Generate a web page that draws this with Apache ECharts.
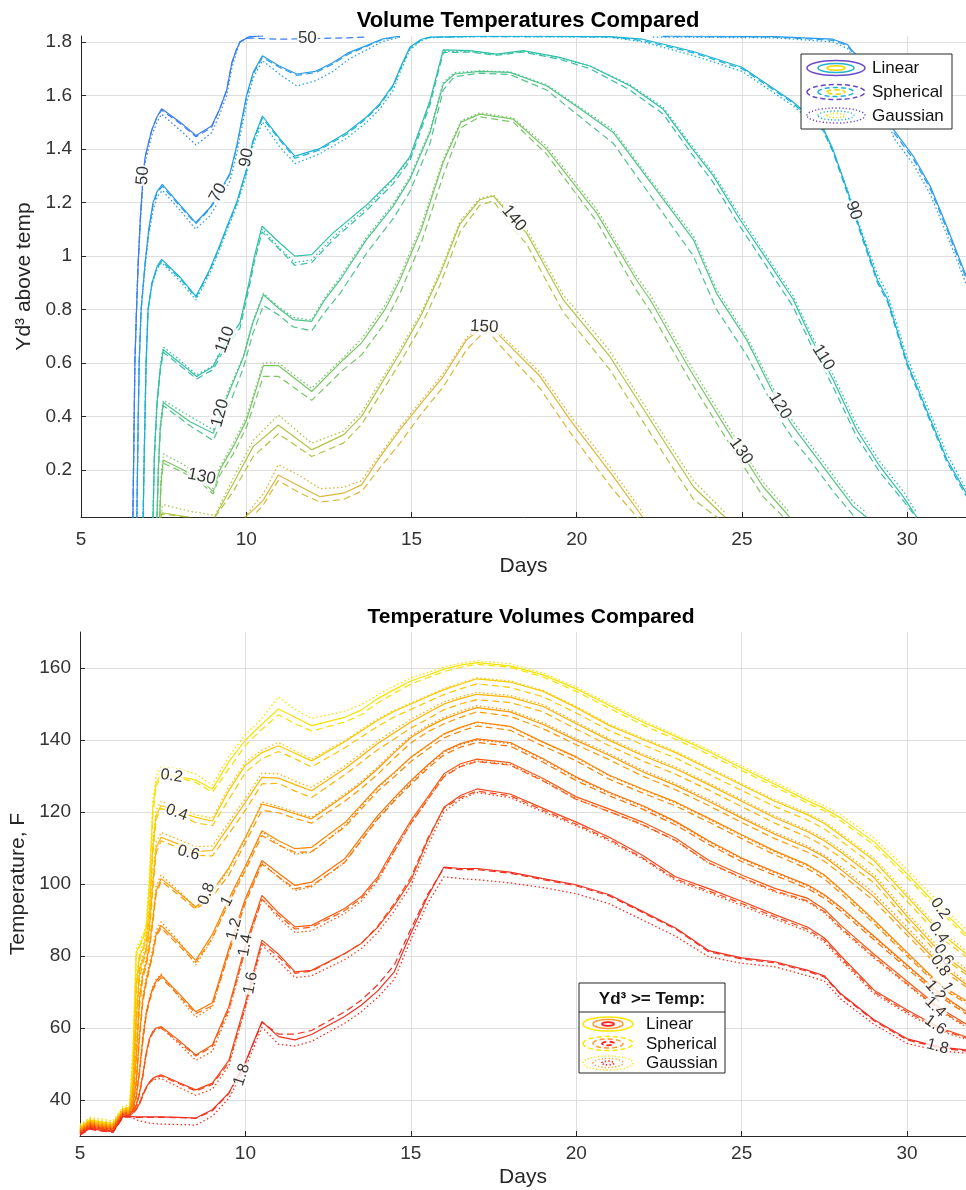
<!DOCTYPE html>
<html><head><meta charset="utf-8">
<script src="https://cdn.jsdelivr.net/npm/echarts@6/dist/echarts.min.js"></script>
<style>html,body{margin:0;padding:0;background:#fff}#c{width:966px;height:1190px}</style>
</head><body><div id="c"></div>
<script>
// ---------- TOP CHART: contour levels (temperature) ----------
const T_LEVELS = [50, 70, 90, 110, 120, 130, 140, 150];

const T50_X   = [6.57, 6.6, 6.63, 6.68, 6.73, 6.8, 6.87, 6.94, 7.14, 7.3, 7.44, 8.0, 8.48, 8.95, 9.2, 9.41, 9.56, 9.7, 9.81, 10.1, 10.5, 11, 12, 13, 13.6];
const T50_LIN = [0.02, 0.3, 0.6, 0.8, 0.975, 1.15, 1.28, 1.37, 1.47, 1.52, 1.55, 1.5, 1.45, 1.486, 1.55, 1.62, 1.72, 1.77, 1.8, 1.82, 1.822, null, null, null, null];
const T50_SPH = [0.02, 0.3, 0.6, 0.8, 0.97, 1.15, 1.28, 1.37, 1.47, 1.52, 1.545, 1.495, 1.445, 1.48, 1.55, 1.62, 1.72, 1.77, 1.8, 1.815, 1.812, 1.81, 1.812, 1.815, 1.818];
const T50_GAU = [0.02, 0.3, 0.6, 0.8, 0.97, 1.13, 1.26, 1.35, 1.45, 1.5, 1.53, 1.47, 1.415, 1.46, 1.53, 1.6, 1.7, 1.76, 1.8, 1.82, 1.822, null, null, null, null];

const T70_X   = [6.69, 6.72, 6.76, 6.82, 6.94, 7.05, 7.18, 7.3, 7.46, 8.0, 8.47, 8.9, 9.2, 9.51, 9.71, 10.01, 10.21, 10.49, 11.0, 11.53, 12.1, 12.63, 13.1, 13.64, 14.1, 14.65, 18, 22.3, 22.6, 24, 26, 27.75, 28.2, 28.35, 28.9, 29.25, 29.6, 30.2, 30.7, 31.2, 31.8];
const T70_LIN = [0.02, 0.3, 0.6, 0.8, 0.975, 1.1, 1.2, 1.24, 1.267, 1.19, 1.124, 1.18, 1.24, 1.31, 1.41, 1.6, 1.686, 1.748, 1.71, 1.68, 1.69, 1.723, 1.76, 1.786, 1.81, 1.822, null, null, 1.822, 1.821, 1.82, 1.81, 1.79, 1.765, 1.7, 1.59, 1.47, 1.37, 1.26, 1.11, 0.92];
const T70_SPH = [0.02, 0.3, 0.6, 0.8, 0.97, 1.09, 1.19, 1.235, 1.26, 1.185, 1.12, 1.175, 1.235, 1.305, 1.405, 1.595, 1.68, 1.742, 1.705, 1.675, 1.685, 1.718, 1.755, 1.783, 1.808, 1.82, null, null, 1.82, 1.819, 1.818, 1.806, 1.785, 1.76, 1.69, 1.58, 1.46, 1.36, 1.25, 1.1, 0.91];
const T70_GAU = [0.02, 0.3, 0.6, 0.8, 0.96, 1.08, 1.17, 1.22, 1.245, 1.17, 1.1, 1.15, 1.21, 1.28, 1.38, 1.57, 1.665, 1.73, 1.68, 1.635, 1.655, 1.69, 1.735, 1.77, 1.8, 1.818, null, 1.818, 1.818, 1.817, 1.815, 1.8, 1.775, 1.745, 1.67, 1.56, 1.44, 1.34, 1.23, 1.08, 0.89];

const T90_X   = [6.88, 6.92, 6.97, 7.03, 7.15, 7.3, 7.44, 8.0, 8.48, 8.9, 9.2, 9.45, 9.71, 10.0, 10.2, 10.49, 11.0, 11.47, 12.2, 13.04, 13.65, 14.05, 14.45, 14.65, 14.95, 15.3, 15.56, 17, 19, 21, 22.0, 23.5, 25.0, 26.5, 27.45, 27.75, 28.2, 28.6, 29.1, 29.4, 30.0, 30.7, 31.2, 31.8];
const T90_LIN = [0.02, 0.3, 0.6, 0.8, 0.9, 0.96, 0.987, 0.92, 0.849, 0.95, 1.04, 1.12, 1.2, 1.32, 1.43, 1.523, 1.44, 1.373, 1.4, 1.461, 1.52, 1.57, 1.64, 1.7, 1.78, 1.81, 1.818, 1.821, 1.821, 1.82, 1.81, 1.765, 1.705, 1.58, 1.48, 1.4, 1.24, 1.09, 0.91, 0.84, 0.6, 0.39, 0.24, 0.11];
const T90_SPH = [0.02, 0.3, 0.6, 0.8, 0.9, 0.955, 0.98, 0.915, 0.845, 0.945, 1.035, 1.115, 1.195, 1.315, 1.425, 1.515, 1.435, 1.365, 1.395, 1.455, 1.515, 1.565, 1.635, 1.695, 1.775, 1.808, 1.817, 1.82, 1.82, 1.818, 1.805, 1.76, 1.7, 1.575, 1.47, 1.39, 1.23, 1.08, 0.9, 0.83, 0.59, 0.38, 0.23, 0.1];
const T90_GAU = [0.02, 0.3, 0.6, 0.8, 0.89, 0.95, 0.975, 0.905, 0.835, 0.935, 1.025, 1.105, 1.185, 1.3, 1.41, 1.5, 1.41, 1.345, 1.38, 1.44, 1.5, 1.55, 1.62, 1.685, 1.77, 1.805, 1.816, 1.82, 1.819, 1.818, 1.8, 1.75, 1.69, 1.565, 1.47, 1.395, 1.245, 1.1, 0.93, 0.86, 0.62, 0.41, 0.26, 0.125];

const T110_X   = [7.18, 7.22, 7.3, 7.4, 7.49, 8.0, 8.5, 9.0, 9.3, 9.81, 10.05, 10.25, 10.48, 11.0, 11.47, 11.98, 12.63, 13.64, 14.45, 14.95, 15.56, 15.96, 16.77, 17.58, 18.38, 19.49, 20.4, 21.61, 22.62, 23.43, 24.13, 24.94, 25.75, 26.55, 27.1, 27.76, 28.47, 29.18, 29.88, 30.29];
const T110_LIN = [0.02, 0.25, 0.45, 0.58, 0.649, 0.6, 0.549, 0.587, 0.66, 0.749, 0.88, 1.0, 1.111, 1.05, 0.999, 1.005, 1.086, 1.19, 1.29, 1.37, 1.58, 1.77, 1.767, 1.754, 1.767, 1.742, 1.71, 1.636, 1.548, 1.411, 1.3, 1.136, 0.987, 0.837, 0.69, 0.537, 0.35, 0.212, 0.1, 0.023];
const T110_SPH = [0.02, 0.24, 0.44, 0.57, 0.64, 0.59, 0.54, 0.575, 0.645, 0.73, 0.86, 0.98, 1.09, 1.025, 0.965, 0.975, 1.06, 1.17, 1.27, 1.355, 1.565, 1.76, 1.762, 1.75, 1.762, 1.735, 1.7, 1.62, 1.53, 1.39, 1.275, 1.11, 0.96, 0.81, 0.665, 0.51, 0.325, 0.19, 0.085, 0.02];
const T110_GAU = [0.02, 0.26, 0.46, 0.59, 0.66, 0.61, 0.555, 0.59, 0.665, 0.75, 0.875, 0.99, 1.1, 1.03, 0.975, 0.985, 1.07, 1.18, 1.285, 1.365, 1.575, 1.765, 1.765, 1.752, 1.765, 1.74, 1.71, 1.64, 1.555, 1.42, 1.31, 1.15, 1.0, 0.85, 0.705, 0.555, 0.37, 0.23, 0.12, 0.04];

const T120_X   = [7.3, 7.34, 7.4, 7.49, 8.3, 9.0, 9.51, 9.91, 10.2, 10.52, 10.97, 11.42, 11.98, 12.38, 12.84, 13.64, 14.45, 14.95, 15.56, 15.96, 16.3, 17.07, 17.98, 19.09, 20.1, 21.11, 22.32, 23.53, 24.23, 25.14, 26.15, 26.55, 27.16, 27.76, 28.37, 28.77];
const T120_LIN = [0.02, 0.2, 0.36, 0.452, 0.38, 0.337, 0.5, 0.62, 0.75, 0.855, 0.805, 0.762, 0.755, 0.837, 0.91, 1.061, 1.186, 1.286, 1.461, 1.642, 1.68, 1.69, 1.686, 1.636, 1.55, 1.461, 1.261, 1.061, 0.86, 0.687, 0.437, 0.362, 0.262, 0.163, 0.063, 0.023];
const T120_SPH = [0.02, 0.19, 0.35, 0.44, 0.365, 0.31, 0.45, 0.58, 0.71, 0.815, 0.78, 0.735, 0.72, 0.79, 0.86, 1.01, 1.14, 1.24, 1.42, 1.62, 1.67, 1.683, 1.678, 1.62, 1.52, 1.42, 1.21, 1.0, 0.8, 0.63, 0.39, 0.315, 0.22, 0.12, 0.03, null];
const T120_GAU = [0.02, 0.21, 0.37, 0.46, 0.4, 0.35, 0.51, 0.625, 0.755, 0.86, 0.81, 0.77, 0.76, 0.845, 0.92, 1.07, 1.195, 1.295, 1.47, 1.648, 1.685, 1.692, 1.688, 1.64, 1.555, 1.47, 1.27, 1.075, 0.875, 0.7, 0.455, 0.38, 0.28, 0.18, 0.08, 0.04];

const T130_X   = [7.38, 7.42, 7.49, 8.1, 8.65, 9.0, 9.2, 9.61, 10.01, 10.52, 10.97, 11.98, 12.94, 13.49, 14.2, 14.65, 15.3, 15.96, 16.5, 17.07, 18.08, 19.09, 20.6, 21.81, 22.22, 23.4, 24.99, 25.64, 26.45];
const T130_LIN = [0.02, 0.15, 0.237, 0.2, 0.16, 0.119, 0.2, 0.287, 0.387, 0.59, 0.59, 0.493, 0.612, 0.675, 0.8, 0.91, 1.1, 1.35, 1.5, 1.53, 1.511, 1.399, 1.161, 0.91, 0.837, 0.58, 0.262, 0.137, 0.023];
const T130_SPH = [0.02, 0.14, 0.225, 0.19, 0.15, 0.11, 0.18, 0.26, 0.36, 0.55, 0.55, 0.46, 0.575, 0.63, 0.75, 0.86, 1.05, 1.3, 1.48, 1.52, 1.5, 1.38, 1.13, 0.87, 0.795, 0.54, 0.225, 0.1, 0.0];
const T130_GAU = [0.02, 0.17, 0.26, 0.22, 0.17, 0.13, 0.21, 0.3, 0.4, 0.6, 0.6, 0.505, 0.62, 0.69, 0.815, 0.925, 1.115, 1.36, 1.505, 1.535, 1.515, 1.41, 1.175, 0.925, 0.855, 0.6, 0.28, 0.155, 0.04];

const T140_X   = [7.42, 7.45, 7.49, 8.3, 8.6, 9.05, 9.61, 10.21, 10.97, 11.98, 12.94, 13.49, 14.65, 15.3, 15.86, 16.47, 17.07, 17.48, 18.08, 18.48, 19.59, 21.0, 22.42, 23.53, 24.49];
const T140_LIN = [0.02, 0.04, 0.044, 0.023, null, 0.023, 0.15, 0.287, 0.368, 0.275, 0.331, 0.4, 0.637, 0.78, 0.93, 1.12, 1.21, 1.224, 1.136, 1.086, 0.837, 0.624, 0.35, 0.137, 0.023];
const T140_SPH = [0.02, 0.035, 0.04, 0.022, null, 0.023, 0.12, 0.25, 0.335, 0.25, 0.3, 0.37, 0.6, 0.74, 0.89, 1.09, 1.19, 1.205, 1.1, 1.045, 0.79, 0.575, 0.3, 0.09, 0.0];
const T140_GAU = [0.03, 0.06, 0.07, 0.045, 0.04, 0.03, 0.17, 0.31, 0.405, 0.3, 0.345, 0.415, 0.65, 0.79, 0.94, 1.13, 1.215, 1.228, 1.145, 1.1, 0.855, 0.645, 0.37, 0.16, 0.04];

const T150_X   = [9.96, 10.3, 10.52, 10.97, 11.6, 12.23, 12.94, 13.49, 14.0, 14.65, 15.3, 15.96, 16.67, 17.07, 17.35, 17.68, 18.89, 19.8, 21.11, 22.0];
const T150_LIN = [0.023, 0.06, 0.088, 0.181, 0.14, 0.1, 0.113, 0.144, 0.24, 0.35, 0.45, 0.549, 0.687, 0.724, 0.735, 0.7, 0.55, 0.387, 0.175, 0.023];
const T150_SPH = [null, 0.04, 0.07, 0.16, 0.115, 0.08, 0.09, 0.12, 0.2, 0.3, 0.41, 0.51, 0.65, 0.7, 0.715, 0.665, 0.505, 0.34, 0.125, 0.0];
const T150_GAU = [0.023, 0.08, 0.11, 0.22, 0.18, 0.13, 0.135, 0.16, 0.25, 0.36, 0.46, 0.56, 0.695, 0.73, 0.74, 0.71, 0.565, 0.405, 0.195, 0.04];

// contour labels: [text, day, volume, rotation]
const T_LABELS = [
  ['50', 6.87, 1.3, 85], ['70', 9.15, 1.236, 62], ['90', 10.01, 1.367, 80],
  ['110', 9.36, 0.687, 70], ['120', 9.21, 0.412, 75], ['130', 8.65, 0.175, -12],
  ['50', 11.85, 1.815, 0], ['150', 17.2, 0.735, -3], ['140', 18.1, 1.14, -50],
  ['90', 28.38, 1.17, -72], ['110', 27.46, 0.62, -58], ['120', 26.15, 0.44, -58], ['130', 24.97, 0.27, -55]
];

// ---------- BOTTOM CHART: volume levels (Yd^3) ----------
const B_LEVELS = ['0.2', '0.4', '0.6', '0.8', '1', '1.2', '1.4', '1.6', '1.8'];
const B_X = [5, 5.3, 5.6, 6, 6.3,
  6.5, 6.6, 6.7, 6.8, 6.9, 7, 7.1, 7.2, 7.3, 7.45,
  8, 8.5, 9, 9.5, 10, 10.5, 11, 11.5, 12,
  13, 13.5, 14, 14.5, 15, 15.5, 16, 16.5, 17,
  18, 19, 20, 21, 22, 23, 24, 25, 26, 27,
  27.5, 28, 29, 30, 31, 31.8];

const B02_LIN = [32.5, 34.5, 34, 33.5, 37.5,
  38, 52, 81, 83, 85, 88, 100, 121, 128, 130.6,
  129.8, 128.9, 126.4, 134, 140, 144.4, 148.6, 146.3, 144,
  146.3, 148.3, 151.5, 154, 156.4, 158, 159.7, 160.8, 161.5,
  160.6, 158.1, 154.2, 149.6, 145, 141, 136.8, 132.2, 127.7, 123.1,
  121, 118.3, 111.7, 102.8, 93.2, 86];
const B02_SPH = [32.3, 34.3, 33.8, 33.3, 37.3,
  37.8, 50, 80, 82.5, 84.5, 87, 98, 119, 127, 130,
  129.5, 128.2, 125.5, 132, 138.5, 143, 147, 144.5, 142.5,
  145, 147, 150.3, 153, 155.5, 157.3, 159, 160.2, 161,
  160.2, 157.5, 153.5, 148.8, 144.2, 140.2, 136, 131.5, 127, 122.4,
  120.3, 117.5, 110.8, 101.8, 92.3, 85.2];
const B02_GAU = [33.2, 35.2, 34.8, 34.2, 38.2,
  38.8, 55, 82, 84, 86, 89, 103, 123, 130, 132.5,
  132, 130.5, 127.5, 135.5, 141.5, 146, 152, 148.5, 146,
  148, 149.8, 152.5, 155, 157.2, 158.7, 160.3, 161.3, 162,
  161.2, 158.6, 154.7, 150.1, 145.5, 141.5, 137.3, 132.8, 128.3, 123.8,
  121.8, 119.2, 112.8, 104, 94.5, 87.2];

const B04_LIN = [32.2, 34.2, 33.6, 33.1, 37.2,
  37.5, 45, 72, 80, 82, 85, 93, 110, 119, 121.8,
  120, 118.5, 117.5, 126, 133, 136.5, 138.4, 136.3, 134.2,
  139.5, 142.5, 145.5, 148, 150, 152, 154, 155.5, 157,
  156.1, 153.5, 149, 144, 140.2, 136.5, 132, 127.5, 123, 119.2,
  116.8, 113.5, 106.5, 96.5, 86.5, 80.5];
const B04_SPH = [32, 34, 33.4, 32.9, 37,
  37.3, 44, 70, 79, 81.5, 84, 91, 108, 118, 121,
  119.3, 117, 116.2, 123.5, 131, 134.8, 136.8, 134.8, 132.5,
  137.8, 140.8, 143.8, 146.4, 148.5, 150.6, 152.6, 154.2, 155.6,
  154.6, 152, 147.5, 142.6, 138.7, 135, 130.5, 126, 121.5, 117.7,
  115.3, 112, 105, 95.2, 85.2, 79.7];
const B04_GAU = [32.8, 34.9, 34.3, 33.8, 37.9,
  38.2, 47, 74, 81, 83, 86, 95, 112, 120.5, 123,
  121.2, 119.2, 118.3, 127, 133.8, 137.2, 139.3, 137, 134.8,
  139.8, 142.9, 145.9, 148.3, 150.3, 152.3, 154.3, 155.8, 157.3,
  156.4, 153.8, 149.3, 144.4, 140.6, 136.9, 132.4, 127.9, 123.4, 119.7,
  117.3, 114, 107.2, 97.3, 87.3, 81.3];

const B06_LIN = [31.9, 33.9, 33.2, 32.8, 36.9,
  37, 42, 62, 76, 79, 82, 88, 100, 110, 113,
  111, 109, 109.3, 116, 122.7, 129.6, 129.4, 127.6, 125.9,
  132, 135.5, 139, 142, 145, 147.5, 150, 151.5, 152.7,
  151.9, 149.3, 144.5, 139.9, 135.7, 132, 127.6, 123, 118.4, 114.5,
  112, 108.8, 101.8, 91, 81, 75.5];
const B06_SPH = [31.7, 33.7, 33, 32.6, 36.7,
  36.8, 41, 60, 74, 78, 81, 86.5, 98, 108.5, 112,
  110, 108, 107.8, 114, 120.5, 127.8, 128, 125.8, 124,
  130.3, 133.8, 137.3, 140.3, 143.3, 145.8, 148.4, 150, 151.2,
  150.4, 147.8, 143, 138.4, 134.2, 130.5, 126.1, 121.5, 116.9, 113,
  110.5, 107.3, 100.3, 89.8, 80, 74.8];
const B06_GAU = [32.5, 34.5, 33.9, 33.5, 37.6,
  37.7, 44, 64, 77, 80, 83, 90, 102, 111.5, 114.3,
  112.3, 110.3, 110.6, 117.2, 123.8, 130.8, 130.6, 128.6, 126.8,
  132.8, 136.3, 139.8, 142.8, 145.8, 148.2, 150.6, 152, 153.2,
  152.4, 149.8, 145, 140.4, 136.2, 132.5, 128.1, 123.5, 118.9, 115,
  112.6, 109.5, 102.6, 92, 82, 76.3];

const B08_LIN = [31.6, 33.6, 32.9, 32.5, 36.6,
  37, 40, 52, 68, 75, 78, 83, 90, 98, 101.5,
  97.5, 93.6, 98, 104.5, 113, 122.2, 121, 119.5, 118.1,
  124.5, 128, 132, 136.5, 140.7, 143.5, 145.8, 147.5, 149,
  147.8, 144.3, 139.9, 135.7, 131.2, 127.4, 123, 118.3, 113.8, 110,
  107.5, 104, 96.5, 87, 77.5, 72];
const B08_SPH = [31.4, 33.4, 32.7, 32.3, 36.4,
  36.8, 39.5, 51, 66, 74, 77, 82, 89, 97, 100.8,
  96.8, 93, 96.5, 102.5, 111.5, 120.5, 119.8, 118.2, 116.9,
  123, 126.5, 130.5, 135, 139.2, 142.2, 144.5, 146.3, 147.8,
  146.6, 143.1, 138.7, 134.5, 130, 126.2, 121.8, 117.1, 112.6, 108.8,
  106.3, 102.8, 95.3, 85.8, 76.5, 71.3];
const B08_GAU = [32.1, 34.1, 33.5, 33.1, 37.2,
  37.5, 41, 54, 70, 76, 79, 84, 91, 99.5, 102.5,
  98, 93.4, 97.5, 104, 112.5, 122.8, 121.5, 120, 118.5,
  125, 128.5, 132.5, 137, 141.2, 144, 146.3, 148, 149.5,
  148.3, 144.8, 140.4, 136.2, 131.7, 127.9, 123.5, 118.8, 114.3, 110.5,
  108, 104.8, 97.5, 88, 78.3, 72.7];

const B10_LIN = [31.3, 33.3, 32.6, 32.2, 36.3,
  36.5, 38.5, 45, 58, 68, 73, 77, 81, 86, 88.5,
  83.5, 78.8, 86, 96, 105, 114.8, 112, 109.8, 110.2,
  117, 122, 127, 131, 135.2, 138.5, 141.7, 143.5, 145,
  143.8, 139.4, 135.3, 130.2, 126.4, 122.8, 118.3, 113.7, 109.2, 105.3,
  102.5, 98.5, 90, 81, 72, 67.5];
const B10_SPH = [31.1, 33.1, 32.4, 32, 36.1,
  36.3, 38.2, 44.5, 57, 67, 72.3, 76.3, 80.3, 85.3, 87.8,
  82.8, 78.2, 85, 94.8, 103.8, 113.5, 110.8, 108.8, 109,
  115.8, 120.8, 125.8, 129.8, 134, 137.4, 140.6, 142.4, 143.9,
  142.7, 138.3, 134.2, 129.1, 125.3, 121.7, 117.2, 112.6, 108.1, 104.2,
  101.4, 97.4, 89, 80, 71.2, 66.8];
const B10_GAU = [31.8, 33.8, 33.2, 32.8, 36.9,
  37, 39, 46, 59, 69, 74, 78, 82, 87, 89.5,
  84, 77.5, 84.8, 95.3, 104.5, 114.5, 111, 108.3, 108.8,
  116.2, 121.5, 126.7, 130.8, 135.1, 138.4, 141.6, 143.4, 144.9,
  143.7, 139.3, 135.1, 130, 126.2, 122.5, 118, 113.4, 108.9, 105,
  102.2, 98.2, 89.7, 80.6, 71.7, 67.2];

const B12_LIN = [31, 33, 32.3, 31.9, 36,
  36, 37.5, 41, 48, 57, 64, 68, 71, 73, 74.6,
  69.5, 64.5, 67, 82, 96, 106.5, 103, 99.6, 100.5,
  107, 113, 119, 124, 128.7, 133, 136.9, 139, 140.3,
  139.3, 134.8, 129.7, 125.5, 121.8, 117.4, 112, 107.2, 103.4, 99.7,
  97, 93.5, 85.5, 77.5, 69.5, 64.5];
const B12_SPH = [30.8, 32.8, 32.1, 31.7, 35.8,
  35.8, 37.2, 40.5, 47.3, 56.3, 63.4, 67.4, 70.4, 72.4, 74,
  68.9, 64, 66.2, 80.8, 94.8, 105.5, 102, 98.7, 99.5,
  106, 112, 118, 123, 127.7, 132, 135.9, 138, 139.3,
  138.3, 133.8, 128.7, 124.5, 120.8, 116.4, 111, 106.2, 102.4, 98.7,
  96, 92.5, 84.5, 76.5, 68.7, 63.8];
const B12_GAU = [31.5, 33.5, 32.9, 32.5, 36.6,
  36.5, 38, 42, 49, 58, 64.5, 68.5, 71.5, 73.5, 75,
  68.5, 63, 65.8, 81.2, 95.5, 106, 101.8, 98.2, 99.2,
  106, 112.2, 118.3, 123.4, 128.2, 132.6, 136.6, 138.7, 140,
  139, 134.5, 129.4, 125.2, 121.5, 117.1, 111.7, 106.9, 103.1, 99.4,
  96.7, 93.2, 85.2, 77.2, 69.2, 64.2];

const B14_LIN = [30.8, 32.7, 32, 31.6, 35.8,
  36, 37, 38.5, 42, 47, 53, 57, 59, 60, 60.4,
  56.5, 52.5, 55.3, 66, 83, 96.8, 92, 88.1, 88.5,
  93.2, 96.5, 102, 110, 117.6, 124, 130.6, 133.4, 134.7,
  133.7, 129.3, 124.2, 120.8, 117.2, 112.8, 106.6, 102.5, 98.8, 96,
  93, 88.5, 80.5, 73, 65.5, 61];
const B14_SPH = [30.6, 32.5, 31.8, 31.4, 35.6,
  35.8, 36.8, 38.3, 41.6, 46.5, 52.5, 56.6, 58.6, 59.6, 60,
  56, 52.2, 54.8, 65.2, 82, 95.8, 91.3, 87.5, 88,
  92.6, 96, 101.3, 109.2, 116.8, 123.3, 129.8, 132.6, 134,
  133, 128.6, 123.5, 120.1, 116.5, 112.1, 105.9, 101.8, 98.1, 95.3,
  92.3, 87.8, 79.8, 72.3, 64.9, 60.5];
const B14_GAU = [31.3, 33.2, 32.6, 32.2, 36.4,
  36.6, 37.5, 39, 42.5, 47.5, 53.2, 57, 59, 60, 60.2,
  55.5, 51, 53.5, 64.5, 81.8, 95.8, 90.5, 86.5, 87,
  91.8, 95.2, 100.8, 109, 116.8, 123.3, 130, 132.8, 134.2,
  133.2, 128.8, 123.6, 120.1, 116.4, 112, 105.8, 101.6, 97.8, 95,
  92, 87.4, 79.4, 72, 64.6, 60.2];

const B16_LIN = [30.6, 32.4, 31.8, 31.4, 35.6,
  35.5, 36.5, 37.5, 39, 41.5, 43.5, 45, 46, 46.5, 47,
  44.8, 42.8, 44.7, 51, 67, 84.4, 80.5, 75.6, 76,
  80.7, 83.5, 88, 94, 101, 112, 121.3, 124.6, 126.4,
  125, 121, 117.2, 113, 108, 102, 98.7, 95.2, 91.5, 88,
  85, 80, 70.5, 65, 60, 57.5];
const B16_SPH = [30.4, 32.2, 31.6, 31.2, 35.4,
  35.3, 36.3, 37.3, 38.8, 41.2, 43.2, 44.7, 45.7, 46.2, 46.7,
  44.5, 42.5, 44.3, 50.4, 66, 83.6, 79.8, 75.2, 75.8,
  80.6, 83.5, 88.3, 94.6, 101.8, 112.5, 121, 124, 125.8,
  124.5, 120.5, 116.6, 112.4, 107.3, 101.4, 98.1, 94.6, 90.9, 87.4,
  84.4, 79.4, 70, 64.5, 59.6, 57.2];
const B16_GAU = [31, 32.9, 32.3, 32, 36.2,
  36, 37, 38, 39.5, 41.8, 43.5, 44.8, 45.5, 45.8, 46,
  43.5, 41.3, 43, 49.5, 65.5, 83, 78.5, 74, 74.5,
  79, 82, 86.5, 92.5, 99.5, 110.5, 120, 123.5, 125.4,
  124, 120, 116.2, 112, 107, 101, 97.6, 94, 90.3, 86.8,
  83.8, 78.8, 69.5, 64, 59.2, 56.8];

const B18_LIN = [30.4, 32.1, 31.6, 31.2, 35.4,
  35.4, 35.4, 35.3, 35.3, 35.3, 35.3, 35.3, 35.3, 35.3, 35.3,
  35.2, 35, 37.3, 42, 50.5, 61.8, 57.6, 56.7, 58.2,
  63.2, 66.3, 70.3, 75.6, 86.3, 96.4, 104.7, 104.3, 104.3,
  103.3, 101.5, 99.8, 97, 92.4, 87.8, 81.5, 79.5, 78.4, 76,
  74.5, 69.5, 62.3, 57, 54.7, 53.9];
const B18_SPH = [30.2, 31.9, 31.4, 31, 35.2,
  35.3, 35.3, 35.2, 35.2, 35.2, 35.2, 35.2, 35.2, 35.2, 35.2,
  35.1, 34.9, 37, 41.8, 50.3, 61.5, 58.3, 58.3, 59.3,
  64.5, 67.7, 72, 77.5, 87.5, 97, 104.5, 104, 104,
  103, 101.2, 99.5, 96.7, 92.1, 87.5, 81.2, 79.2, 78.1, 75.7,
  74.2, 69.2, 62, 56.7, 54.4, 53.6];
const B18_GAU = [30.8, 32.6, 32.2, 31.8, 35.9,
  35.5, 35, 34.5, 34.2, 34, 33.8, 33.6, 33.5, 33.4, 33.3,
  33.2, 33, 35.5, 40.5, 49, 60.2, 55.5, 55, 56.3,
  61.3, 64.5, 68.5, 73.5, 84.5, 94.5, 102, 101.5, 101.2,
  100.3, 99, 97.3, 94.5, 90, 85.5, 79.8, 78, 77, 74.5,
  73, 68, 61, 55.7, 53.6, 53];

const B_LABELS = [
  ['0.2', 7.77, 130, -8], ['0.4', 7.92, 119.8, -20], ['0.6', 8.28, 108.6, -14],
  ['0.8', 8.83, 97.3, 70], ['1', 9.44, 95.2, 62], ['1.2', 9.66, 87.5, 76],
  ['1.4', 10.0, 83, 80], ['1.6', 10.16, 72.5, 80], ['1.8', 9.89, 47, 72],
  ['0.2', 31.0, 93.2, -55], ['0.4', 30.95, 86.5, -55], ['0.6', 31.1, 80.3, -55],
  ['0.8', 31.0, 77.3, -55], ['1', 31.2, 71.3, -60], ['1.2', 30.85, 70.3, -50],
  ['1.4', 30.85, 65.8, -45], ['1.6', 30.85, 60.8, -35], ['1.8', 30.92, 54.8, -15]
];

// ---------- styles ----------
const FONT = "'Liberation Sans', Arial, Helvetica, sans-serif";
const T_COLORS = ['#3b7ff2', '#2a9ce8', '#19b1d6', '#33c0a4', '#4fc48b', '#7cc567', '#b0c445', '#d9b83a'];
const B_COLORS = ['#f7e200', '#fbc900', '#fcb200', '#fd9a00', '#fd8600', '#fd7000', '#fb5a10', '#f74618', '#f22f20'];
const KIND = {
  lin: { type: 'solid', width: 1.2 },
  sph: { type: [7, 4], width: 1.2 },
  gau: { type: [1.5, 2.5], width: 1.3 }
};

function pts(xs, ys) { return xs.map((x, i) => [x, ys[i] == null ? '-' : ys[i]]); }
function lineSeries(name, ax, data, color, kind) {
  return {
    type: 'line', name: name, xAxisIndex: ax, yAxisIndex: ax, data: data,
    symbol: 'none', showSymbol: false, silent: true, animation: false, connectNulls: false,
    lineStyle: { color: color, width: KIND[kind].width, type: KIND[kind].type },
    z: 2
  };
}

const TOP_SETS = [
  [T50_X, T50_LIN, T50_SPH, T50_GAU], [T70_X, T70_LIN, T70_SPH, T70_GAU],
  [T90_X, T90_LIN, T90_SPH, T90_GAU], [T110_X, T110_LIN, T110_SPH, T110_GAU],
  [T120_X, T120_LIN, T120_SPH, T120_GAU], [T130_X, T130_LIN, T130_SPH, T130_GAU],
  [T140_X, T140_LIN, T140_SPH, T140_GAU], [T150_X, T150_LIN, T150_SPH, T150_GAU]
];
const BOT_SETS = [
  [B02_LIN, B02_SPH, B02_GAU], [B04_LIN, B04_SPH, B04_GAU], [B06_LIN, B06_SPH, B06_GAU],
  [B08_LIN, B08_SPH, B08_GAU], [B10_LIN, B10_SPH, B10_GAU], [B12_LIN, B12_SPH, B12_GAU],
  [B14_LIN, B14_SPH, B14_GAU], [B16_LIN, B16_SPH, B16_GAU], [B18_LIN, B18_SPH, B18_GAU]
];

const series = [];
TOP_SETS.forEach((s, i) => {
  const c = T_COLORS[i], n = String(T_LEVELS[i]);
  series.push(lineSeries(n + ' Linear', 0, pts(s[0], s[1]), c, 'lin'));
  series.push(lineSeries(n + ' Spherical', 0, pts(s[0], s[2]), c, 'sph'));
  series.push(lineSeries(n + ' Gaussian', 0, pts(s[0], s[3]), c, 'gau'));
});
BOT_SETS.forEach((s, i) => {
  const c = B_COLORS[i], n = B_LEVELS[i];
  series.push(lineSeries(n + ' Linear', 1, pts(B_X, s[0]), c, 'lin'));
  series.push(lineSeries(n + ' Spherical', 1, pts(B_X, s[1]), c, 'sph'));
  series.push(lineSeries(n + ' Gaussian', 1, pts(B_X, s[2]), c, 'gau'));
});
function labelSeries(ax, list, fs) {
  return {
    type: 'scatter', xAxisIndex: ax, yAxisIndex: ax, symbolSize: 1, silent: true, animation: false, z: 5,
    itemStyle: { color: 'rgba(0,0,0,0)' },
    label: { show: true, position: 'inside', fontSize: fs, color: '#000', fontFamily: FONT, backgroundColor: '#fff', padding: [0, 1] },
    data: list.map(l => ({ value: [l[1], l[2]], label: { formatter: l[0], rotate: l[3] } }))
  };
}
series.push(labelSeries(0, T_LABELS, 17));
series.push(labelSeries(1, B_LABELS, 16));

function xAx(grid, gap, margin) {
  return {
    type: 'value', gridIndex: grid, min: 5, max: 31.78, interval: 5,
    name: 'Days', nameLocation: 'middle', nameGap: gap,
    nameTextStyle: { fontSize: 21, color: '#262626', fontFamily: FONT },
    axisLine: { show: true, onZero: false, lineStyle: { color: '#262626', width: 1 } },
    axisTick: { show: true, inside: true, length: 5, lineStyle: { color: '#262626' } },
    axisLabel: { color: '#333', fontSize: 19, fontFamily: FONT, margin: margin, showMinLabel: true, showMaxLabel: false },
    splitLine: { show: true, showMinLine: false, showMaxLine: false, lineStyle: { color: '#dedede', width: 1 } }
  };
}
function yAx(grid, min, max, step, name, gap) {
  return {
    type: 'value', gridIndex: grid, min: min, max: max, minInterval: step, maxInterval: step, splitNumber: Math.round((max - min) / step),
    name: name, nameLocation: 'middle', nameGap: gap, nameRotate: 90,
    nameTextStyle: { fontSize: 21, color: '#262626', fontFamily: FONT },
    axisLine: { show: true, lineStyle: { color: '#262626', width: 1 } },
    axisTick: { show: true, inside: true, length: 5, lineStyle: { color: '#262626' } },
    axisLabel: { color: '#333', fontSize: 19, fontFamily: FONT, margin: 9, showMinLabel: false, showMaxLabel: false },
    splitLine: { show: true, showMinLine: false, showMaxLine: false, lineStyle: { color: '#dedede', width: 1 } }
  };
}

function ell(cx, cy, rx, ry, color, w, dash) {
  return { type: 'ellipse', z: 101, shape: { cx: cx, cy: cy, rx: rx, ry: ry },
    style: { fill: null, stroke: color, lineWidth: w, lineDash: dash || null } };
}
function txt(x, y, t, fs, bold, align) {
  return { type: 'text', z: 101, x: x, y: y,
    style: { text: t, fontSize: fs, fontFamily: FONT, fontWeight: bold ? 'bold' : 'normal', fill: '#111', verticalAlign: 'middle', align: align || 'left' } };
}
const DASH = [5, 3], DOT = [1.2, 2.2];
const graphic = [
  // top legend
  { type: 'rect', z: 100, shape: { x: 801, y: 54, width: 151, height: 75 }, style: { fill: '#fff', stroke: '#262626', lineWidth: 1 } },
  ell(836, 68, 29, 7.5, '#6a48c8', 1.5), ell(836, 68, 18, 4.5, '#22b3cf', 1.5), ell(836, 68, 9, 2.2, '#f0de18', 1.8),
  ell(836, 92, 29, 7.5, '#6a48c8', 1.5, DASH), ell(836, 92, 18, 4.5, '#22b3cf', 1.5, DASH), ell(836, 92, 9, 2.2, '#f0de18', 1.8, DASH),
  ell(836, 115.5, 29, 7.5, '#6a48c8', 1.5, DOT), ell(836, 115.5, 18, 4.5, '#22b3cf', 1.5, DOT), ell(836, 115.5, 9, 2.2, '#f0de18', 1.8, DOT),
  txt(872, 68.5, 'Linear', 17), txt(872, 92.5, 'Spherical', 17), txt(872, 116, 'Gaussian', 17),
  // bottom legend
  { type: 'rect', z: 100, shape: { x: 579, y: 983, width: 146, height: 90 }, style: { fill: '#fff', stroke: '#262626', lineWidth: 1 } },
  { type: 'line', z: 101, shape: { x1: 579, y1: 1012, x2: 725, y2: 1012 }, style: { stroke: '#262626', lineWidth: 1 } },
  txt(652, 999, 'Yd³ >= Temp:', 17, true, 'center'),
  ell(608, 1024, 25, 7, '#ffe600', 1.5), ell(608, 1024, 15, 4.5, '#ff9933', 1.5), ell(608, 1024, 6, 1.8, '#ff2020', 1.8),
  ell(608, 1043.5, 25, 7, '#ffe600', 1.5, DASH), ell(608, 1043.5, 15, 4.5, '#ff9933', 1.5, DASH), ell(608, 1043.5, 6, 1.8, '#ff2020', 1.8, DASH),
  ell(608, 1063, 25, 7, '#ffe600', 1.5, DOT), ell(608, 1063, 15, 4.5, '#ff9933', 1.5, DOT), ell(608, 1063, 6, 1.8, '#ff2020', 1.8, DOT),
  txt(646, 1024.5, 'Linear', 17), txt(646, 1044, 'Spherical', 17), txt(646, 1063.5, 'Gaussian', 17)
];

const chart = echarts.init(document.getElementById('c'), null, { renderer: 'canvas' });
chart.setOption({
  backgroundColor: '#fff',
  animation: false,
  title: [
    { text: 'Volume Temperatures Compared', left: 523, top: 5, textAlign: 'center',
      textStyle: { fontSize: 22, fontWeight: 'bold', color: '#000', fontFamily: FONT } },
    { text: 'Temperature Volumes Compared', left: 526, top: 602, textAlign: 'center',
      textStyle: { fontSize: 21, fontWeight: 'bold', color: '#000', fontFamily: FONT } }
  ],
  grid: [
    { left: 81, top: 36, right: 0, height: 481, containLabel: false, outerBoundsMode: 'none' },
    { left: 80, top: 632, right: 0, height: 504, containLabel: false, outerBoundsMode: 'none' }
  ],
  xAxis: [xAx(0, 39, 13), xAx(1, 31, 8)],
  yAxis: [yAx(0, 0.024, 1.822, 0.2, 'Yd³ above temp', 46), yAx(1, 30, 170, 20, 'Temperature, F', 45)],
  series: series,
  graphic: graphic
});
</script>
</body></html>
